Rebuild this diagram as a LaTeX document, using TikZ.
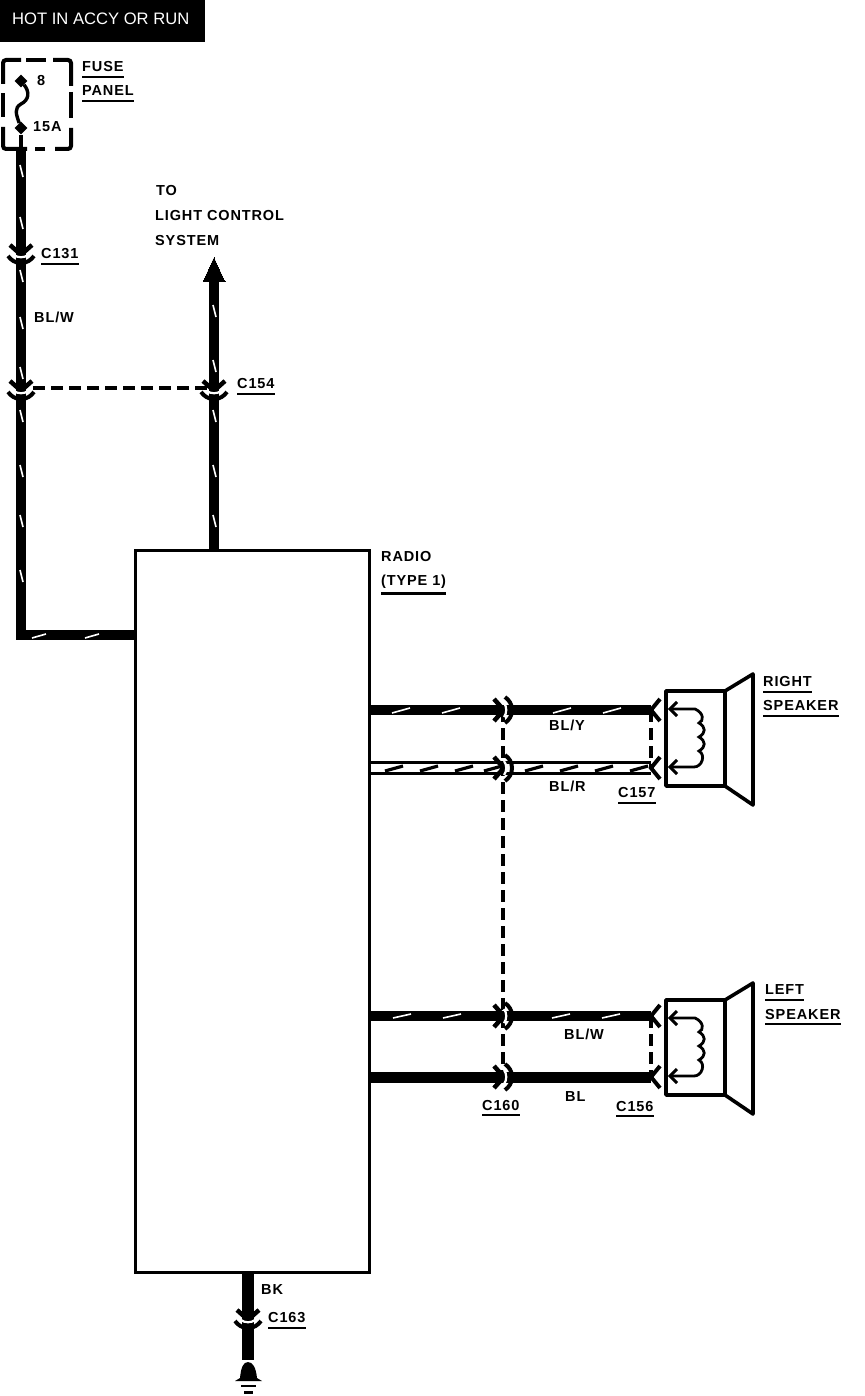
\documentclass[tikz,border=0pt]{standalone}
\usepackage{fontspec}
\setmainfont{Liberation Sans}
\newfontfamily\lblfont[LetterSpace=6]{Liberation Sans Bold}
\usetikzlibrary{shapes.geometric,positioning}

\tikzset{
  lbl/.style={anchor=west, inner sep=0pt, font=\lblfont\fontsize{14.5}{16}\selectfont},
  ulbl/.style={lbl, inner ysep=4.5pt, append after command={
    (\tikzlastnode.south west) edge[line width=2.2pt] (\tikzlastnode.south east)}},
  wire/.style={line width=10pt},
  hollowwire/.style={line width=3pt, double=white, double distance=8.5pt},
  dashwire/.style={line width=3.2pt, dash pattern=on 12pt off 6pt},
  tracer/.style={white, line width=1.6pt},
  fuseline/.style={line width=4pt, rounded corners=3pt},
  pics/conn/.style={code={
    \draw[line width=4.5pt, miter limit=2] (-9,-11) -- (-1,-2) -- (-1,2) -- (-9,11);
    \draw[line width=4pt] (2,-13) .. controls (6,-10) and (9,-6) .. (9,0)
      .. controls (9,6) and (6,10) .. (2,13);
    \draw[white, line width=2.2pt] (1,-7) .. controls (4,-3) and (4,3) .. (1,7);
  }},
  pics/rconn/.style={code={
    \draw[line width=4pt, miter limit=2] (9,-11) -- (0,0) -- (9,11);
  }},
  pics/spkr/.style={code={
    \draw[line width=3.6pt, line join=round] (0,0) rectangle (59,95);
    \draw[line width=3.6pt, line join=round] (59,0) -- (87,-17) -- (87,114) -- (59,95);
    \draw[line width=3pt] (11,11) -- (4,18) -- (11,25);
    \draw[line width=3pt] (11,69) -- (4,76) -- (11,83);
    \draw[line width=2.8pt] (4,18) -- (29,18) .. controls (38,22) and (38,30) .. (33,32)
      .. controls (40,36) and (40,42) .. (33,46) .. controls (40,50) and (40,56) .. (33,60)
      .. controls (40,64) and (36,76) .. (28,76) -- (4,76);
  }}
}

\begin{document}
\begin{tikzpicture}[x=1pt,y=-1pt]
\useasboundingbox (0,0) rectangle (864,1396);

% Titolo
\node[fill=black, minimum width=205pt, minimum height=42pt, inner sep=0pt] (hot) at (102.5,21) {};
\node[white, anchor=west, inner sep=0pt, font=\fontsize{16.6}{18}\selectfont] (hottxt) at (12,19) {HOT IN ACCY OR RUN};

% Fuse panel
\node[minimum width=67pt, minimum height=89pt, inner sep=0pt] (fuse) at (37.5,105) {};
\draw[fuseline] (3,84) -- (3,60) -- (21,60);
\draw[fuseline] (26,60) -- (46,60);
\draw[fuseline] (53,60) -- (71,60) -- (71,86);
\draw[fuseline] (71,92) -- (71,118);
\draw[fuseline] (71,128) -- (71,149) -- (55,149);
\draw[fuseline] (45,149) -- (35,149);
\draw[fuseline] (27,149) -- (3,149) -- (3,127);
\draw[fuseline] (3,117) -- (3,93);
\node[ulbl] (fuselbl) at (82,67) {FUSE};
\node[ulbl] (panellbl) at (82,91) {PANEL};
\node[diamond, fill=black, inner sep=0pt, minimum size=13pt] (fusea) at (21,81) {};
\node[diamond, fill=black, inner sep=0pt, minimum size=13pt] (fuseb) at (21,128) {};
\node[lbl] (fuseatxt) at (37,81) {8};
\node[lbl] (fusebtxt) at (33,127) {15A};
\draw[line width=3.4pt] (fusea) .. controls (30,92) and (29,100) .. (21,104)
  .. controls (14,108) and (16,114) .. (fuseb);
\draw[line width=4pt] (fuseb) -- (21,150);

% Radio
\node[draw, line width=3pt, minimum width=234pt, minimum height=722pt, inner sep=0pt] (radio) at (252,911) {};
\node[lbl] (radiolbl) at (381,557) {RADIO};
\node[ulbl] (typelbl) at (381,582) {(TYPE 1)};

% Punti dei connettori
\coordinate (cfuse) at (21,148);
\coordinate (c131) at (21,254);
\coordinate (c154a) at (21,390);
\coordinate (c154b) at (214,390);
\coordinate (corner) at (21,635);
\coordinate (tip) at (214,258);
\coordinate (c160a) at (503,710);
\coordinate (c160b) at (503,768);
\coordinate (c160c) at (503,1016);
\coordinate (c160d) at (503,1077);
\coordinate (c157a) at (651,710);
\coordinate (c157b) at (651,768);
\coordinate (c156a) at (651,1016);
\coordinate (c156b) at (651,1077);
\coordinate (c163) at (248,1319);
\coordinate (gnd) at (248,1360);

% Fili verticali
\draw[wire, line join=miter] (cfuse) -- (c131) -- (c154a) -- (corner) -- (radio.west |- corner);
\draw[wire] (radio.north -| c154b) -- (c154b) -- (214,280);
\draw[fill=black, line width=0pt] (tip) -- (225,282) -- (203,282) -- cycle;
\draw[line width=12pt] (radio.south -| c163) -- (gnd);

% Fili orizzontali
\draw[wire] (radio.east |- c160a) -- (c160a) -- (c157a);
\draw[hollowwire] (radio.east |- c160b) -- (c160b) -- (c157b);
\draw[wire] (radio.east |- c160c) -- (c160c) -- (c156a);
\draw[line width=11pt] (radio.east |- c160d) -- (c160d) -- (c156b);

% Tratteggi
\draw[dashwire] (33,388) -- (c154b |- 0,388);
\draw[dashwire] (c160a) -- (c160d);
\draw[dashwire] (c157a) -- (c157b);
\draw[dashwire] (c156a) -- (c156b);

% Segni bianchi
\foreach \y in {165,217,270,317,367,410,465,515,570}
  \draw[tracer] (20,\y) -- (23,\y+12);
\foreach \y in {305,360,410,465,515}
  \draw[tracer] (213,\y) -- (216,\y+12);
\foreach \x in {32,85}
  \draw[tracer] (\x,638) -- (\x+14,634);
\foreach \x in {392,442,553,603}
  \draw[tracer] (\x,713) -- (\x+18,708);
\foreach \x in {393,443,552,602}
  \draw[tracer] (\x,1018) -- (\x+18,1014);
\foreach \x in {385,420,455,484,525,560,595,630}
  \draw[line width=3.2pt] (\x,771) -- (\x+18,766);

% Connettori
\foreach \p in {c131,c154a,c154b,c163}
  \pic[rotate=-90] at (\p) {conn};
\foreach \p in {c160a,c160b,c160c,c160d}
  \pic at (\p) {conn};
\foreach \p in {c157a,c157b,c156a,c156b}
  \pic at (\p) {rconn};

% Altoparlanti
\pic at (666,691) {spkr};
\pic at (666,1000) {spkr};

% Massa
\fill (240,1378) .. controls (241,1368) and (243,1362) .. (248,1362)
  .. controls (253,1362) and (256,1368) .. (257,1378) -- (262,1381) -- (235,1381) -- cycle;
\draw[line width=2.5pt] (241,1386) -- (256,1386);
\draw[line width=3pt] (244,1392.5) -- (253,1392.5);

% Etichette
\node[lbl] (tolbl) at (156,191) {TO};
\node[lbl] (lightlbl) at (155,216) {LIGHT CONTROL};
\node[lbl] (systemlbl) at (155,241) {SYSTEM};
\node[ulbl] (c131lbl) at (41,254) {C131};
\node[lbl] (blwlbl) at (34,317) {BL/W};
\node[ulbl] (c154lbl) at (237,384) {C154};
\node[ulbl] (rightlbl) at (763,682) {RIGHT};
\node[ulbl] (speakerr) at (763,706) {SPEAKER};
\node[lbl] (blylbl) at (549,725) {BL/Y};
\node[lbl] (blrlbl) at (549,786) {BL/R};
\node[ulbl] (c157lbl) at (618,793) {C157};
\node[ulbl] (leftlbl) at (765,990) {LEFT};
\node[ulbl] (speakerl) at (765,1014) {SPEAKER};
\node[lbl] (blw2lbl) at (564,1034) {BL/W};
\node[lbl] (bllbl) at (565,1096) {BL};
\node[ulbl] (c160lbl) at (482,1105) {C160};
\node[ulbl] (c156lbl) at (616,1106) {C156};
\node[lbl] (bklbl) at (261,1289) {BK};
\node[ulbl] (c163lbl) at (268,1318) {C163};
\end{tikzpicture}
\end{document}
